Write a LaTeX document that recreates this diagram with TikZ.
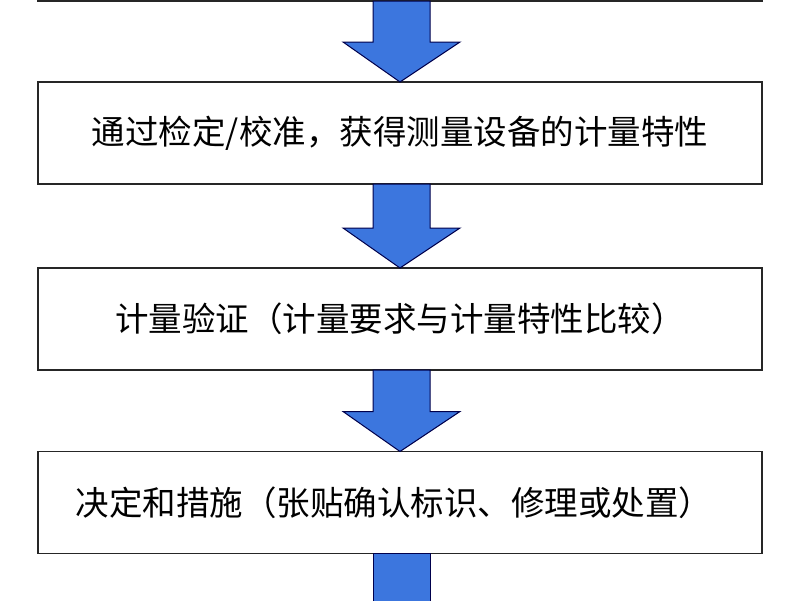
\documentclass[tikz,border=0pt]{standalone}
\usepackage{fontspec}
\setmainfont{Noto Sans CJK SC}
\definecolor{arrblue}{RGB}{60,118,222}
\begin{document}
\begin{tikzpicture}[x=1pt,y=-1pt,
 box/.style={draw=black!85,line width=1.2pt,minimum width=724pt,minimum height=102pt,inner sep=0pt,font=\fontsize{33.5}{36}\selectfont},
 arr/.style={fill=arrblue,draw=black!70!blue,line width=1pt}]
\useasboundingbox (0,0) rectangle (800,600);
\draw[line width=1.2pt,black!85] (38,-20) rectangle (762,1);
\node[box] (b1) at (400,133) {通过检定/校准，获得测量设备的计量特性};
\node[box] (b2) at (400,319) {计量验证（计量要求与计量特性比较）};
\node[box] (b3) at (400,502.5) {\hspace*{-12pt}决定和措施（张贴确认标识、修理或处置）};
\foreach \ya/\yb in {1/82, 184/268, 370/451.5}{
 \draw[arr] (373,\ya) -- (430,\ya) -- (430,\yb-40) -- (460,\yb-40) -- (400,\yb) -- (343,\yb-40) -- (373,\yb-40) -- cycle;
}
\draw[arr] (373,553.5) -- (430,553.5) -- (430,610) -- (373,610) -- cycle;
\end{tikzpicture}
\end{document}
